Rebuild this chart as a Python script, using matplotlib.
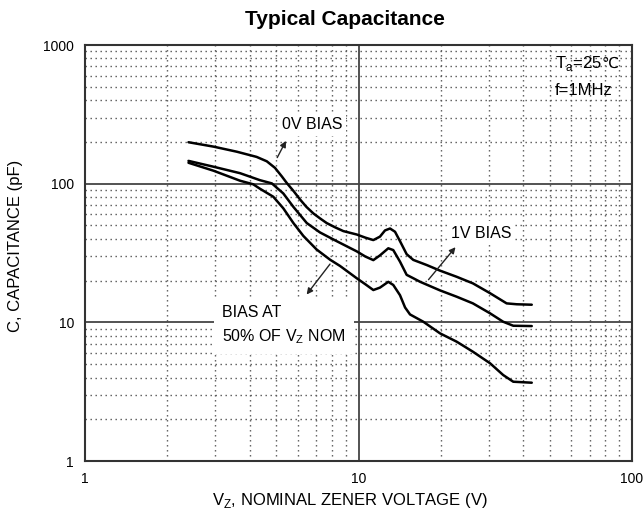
import numpy as np
import matplotlib
matplotlib.use("Agg")
import matplotlib.pyplot as plt
from matplotlib.ticker import LogLocator, NullFormatter, FixedLocator, FixedFormatter

plt.rcParams['font.family'] = ['Liberation Sans', 'DejaVu Sans']

# datos (V nominal, pF)
v_0v = [2.39, 2.95, 3.59, 4.24, 4.62, 4.95, 5.24, 5.47, 5.8, 6.11, 6.45, 6.84, 7.25,
        7.65, 8.2, 8.8, 9.85, 10.6, 11.33, 11.98, 12.5, 13.04, 13.6, 14.18, 15.0,
        15.86, 17.76, 19.86, 22.86, 26.2, 30.3, 34.8, 37.9, 43.0]
c_0v = [199, 185, 170, 156, 145, 130, 113, 101, 88, 77, 68, 61, 56,
        52, 48.5, 45.5, 43, 40.8, 39.2, 41.5, 46, 47.5, 45, 38.5, 31,
        28.2, 25.9, 23.6, 21.3, 19.1, 16.2, 13.7, 13.5, 13.4]

v_1v = [2.39, 2.95, 3.69, 4.36, 4.82, 5.31, 5.78, 6.47, 7.23, 8.32, 9.85, 10.6,
        11.33, 11.98, 12.85, 13.4, 14.18, 15.0, 15.86, 16.8, 19.86, 22.86, 26.2,
        30.3, 33.8, 36.8, 43.0]
c_1v = [146, 132.5, 119, 106, 100.5, 85, 68, 52, 44.5, 38.5, 32.5, 29.8,
        28.1, 30.4, 34.2, 33.2, 27.4, 22, 20.8, 19.6, 17.0, 15.3, 13.7,
        11.6, 10.1, 9.45, 9.4]

v_50 = [2.39, 2.95, 3.69, 4.12, 4.36, 4.88, 5.31, 5.78, 6.285, 7.03, 7.87, 8.56,
        9.85, 10.6, 11.33, 11.98, 12.85, 13.4, 14.18, 14.8, 15.43, 17.26, 19.86,
        22.86, 26.2, 30.3, 33.8, 36.8, 43.0]
c_50 = [141.5, 124, 105, 99, 92, 80.5, 66.4, 52, 42, 33.5, 28.3, 25.5,
        20.8, 18.8, 17.1, 17.8, 19.6, 18.6, 15.7, 12.8, 11.4, 10.1, 8.33,
        7.25, 6.14, 5.06, 4.17, 3.73, 3.67]

x_ticks = [1, 10, 100]
y_ticks = [1, 10, 100, 1000]

fig = plt.figure(figsize=(6.43, 5.12), dpi=100)
ax = fig.add_axes([0.1322, 0.0996, 0.8507, 0.8125])

ax.set_xscale('log')
ax.set_yscale('log')
ax.set_xlim(1, 100)
ax.set_ylim(1, 1000)

for v, c in [(v_0v, c_0v), (v_1v, c_1v), (v_50, c_50)]:
    ax.plot(v, c, color='black', lw=1.8, solid_joinstyle='round',
            solid_capstyle='round', zorder=5)

# rejilla: mayores solidas, menores punteadas
ax.xaxis.set_major_locator(FixedLocator(x_ticks))
ax.yaxis.set_major_locator(FixedLocator(y_ticks))
ax.xaxis.set_major_formatter(FixedFormatter([str(t) for t in x_ticks]))
ax.yaxis.set_major_formatter(FixedFormatter([str(t) for t in y_ticks]))
ax.xaxis.set_minor_locator(LogLocator(base=10, subs=np.arange(2, 10)))
ax.yaxis.set_minor_locator(LogLocator(base=10, subs=np.arange(2, 10)))
ax.xaxis.set_minor_formatter(NullFormatter())
ax.yaxis.set_minor_formatter(NullFormatter())
ax.grid(which='major', ls='-', color='#444444', lw=1.3)
ax.grid(which='minor', ls=(0, (1, 2.6)), color='#555555', lw=1.0)
ax.tick_params(which='both', length=0, labelsize=10, pad=8)
for s in ax.spines.values():
    s.set_color('#333333')
    s.set_linewidth(1.5)

# textos
box = dict(fc='white', ec='none', pad=3)
flecha = dict(arrowstyle='-|>', color='#222222', lw=1, mutation_scale=9)
ax.text(6.76, 269, '0V BIAS', fontsize=11.5, ha='center', va='center', bbox=box, zorder=4)
ax.annotate('', xy=(5.49, 212), xytext=(4.99, 148), arrowprops=flecha, zorder=6)

ax.text(28.05, 44, '1V BIAS', fontsize=11.5, ha='center', va='center', bbox=box, zorder=4)
ax.annotate('', xy=(22.97, 36.1), xytext=(17.76, 19.6), arrowprops=flecha, zorder=6)

ax.text(3.17, 9.48, 'BIAS AT\n50% OF V$_\\mathregular{Z}$ NOM', fontsize=11.5,
        ha='left', va='center', linespacing=1.5,
        bbox=dict(fc='white', ec='none', pad=6), zorder=4)
ax.annotate('', xy=(6.37, 15.3), xytext=(7.98, 27.3), arrowprops=flecha, zorder=6)

ta = ax.text(52.3, 740, 'T$_\\mathregular{a}$=25', fontsize=12, ha='left', va='center', zorder=4)
ax.annotate('\u2103', xy=(1, 0.5), xycoords=ta, fontsize=11, family='DejaVu Sans',
            ha='left', va='center', zorder=4)
ax.text(52.3, 473, 'f=1MHz', fontsize=12, ha='left', va='center', zorder=4)

fig.text(0.5365, 0.962, 'Typical Capacitance', fontsize=15, fontweight='bold',
         ha='center', va='center')
fig.text(0.544, 0.022, 'V$_\\mathregular{Z}$, NOMINAL ZENER VOLTAGE (V)', fontsize=12,
         ha='center', va='center')
fig.text(0.024, 0.52, 'C, CAPACITANCE (pF)', fontsize=12, rotation=90,
         ha='center', va='center')

plt.savefig('out.png', dpi=100)
